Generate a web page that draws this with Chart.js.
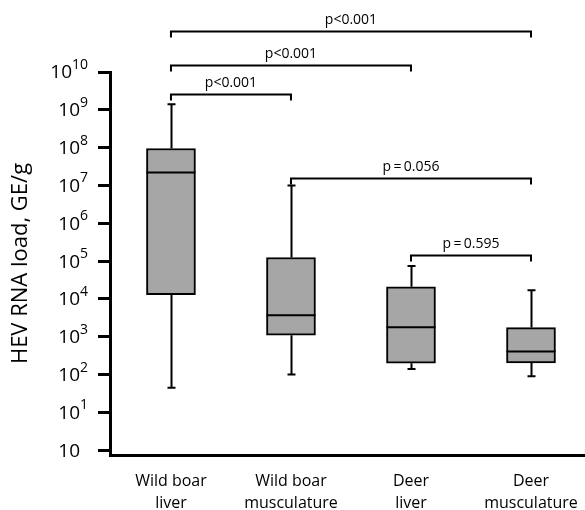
<!DOCTYPE html>
<html>
<head>
<meta charset="utf-8">
<script src="https://cdn.jsdelivr.net/npm/chart.js@4.4.0/dist/chart.umd.min.js"></script>
<style>
  html, body { margin: 0; padding: 0; background: #fff; }
</style>
</head>
<body>
<canvas id="myChart" width="585" height="510"></canvas>
<script>
// data (GE/g)
const categories = [['Wild boar', 'liver'], ['Wild boar', 'musculature'], ['Deer', 'liver'], ['Deer', 'musculature']];
const whiskerLow = [45, 100, 140, 90];
const q1 = [1.3e4, 1.1e3, 200, 205];
const medians = [2.2e7, 3.7e3, 1.8e3, 410];
const q3 = [9.5e7, 1.25e5, 2.1e4, 1.75e3];
const whiskerHigh = [1.4e9, 1.0e7, 7.4e4, 1.7e4];

// y ticks: "10" at the bottom, then 10^1 .. 10^10
const yTicks = [1, 1e1, 1e2, 1e3, 1e4, 1e5, 1e6, 1e7, 1e8, 1e9, 1e10];
const yTickExp = ['', '1', '2', '3', '4', '5', '6', '7', '8', '9', '10'];

// significance brackets
const comparisons = [[0, 1], [0, 2], [0, 3], [1, 3], [2, 3]];
const pLabels = ['p<0.001', 'p<0.001', 'p<0.001', 'p\u2009=\u20090.056', 'p\u2009=\u20090.595'];
const bracketLevels = [2.6e9, 1.5e10, 1.2e11, 1.6e7, 1.45e5];

const FONT = "'Open Sans', sans-serif";

const boxPlugin = {
  id: 'boxExtras',
  beforeDatasetsDraw(chart) {
    const { ctx, scales: { x, y } } = chart;
    ctx.save();
    ctx.strokeStyle = '#000';
    ctx.lineWidth = 2;
    for (let i = 0; i < categories.length; i++) {
      const cx = Math.round(x.getPixelForValue(i)) + 0.5;
      const lo = y.getPixelForValue(whiskerLow[i]);
      const hi = y.getPixelForValue(whiskerHigh[i]);
      ctx.beginPath();
      ctx.moveTo(cx, y.getPixelForValue(q1[i]));
      ctx.lineTo(cx, lo);
      ctx.moveTo(cx, y.getPixelForValue(q3[i]));
      ctx.lineTo(cx, hi);
      ctx.moveTo(cx - 4, lo);
      ctx.lineTo(cx + 4, lo);
      ctx.moveTo(cx - 4, hi);
      ctx.lineTo(cx + 4, hi);
      ctx.stroke();
    }
    ctx.restore();
  },
  afterDatasetsDraw(chart) {
    const { ctx, scales: { y } } = chart;
    const meta = chart.getDatasetMeta(0);
    ctx.save();
    ctx.strokeStyle = '#000';
    ctx.lineWidth = 2;
    meta.data.forEach((bar, i) => {
      const half = bar.width / 2;
      const my = y.getPixelForValue(medians[i]);
      ctx.beginPath();
      ctx.moveTo(bar.x - half, my);
      ctx.lineTo(bar.x + half, my);
      ctx.stroke();
    });
    ctx.restore();
  },
  afterDraw(chart) {
    const { ctx, scales: { x, y } } = chart;
    ctx.save();
    ctx.fillStyle = '#000';
    // y tick labels with superscript exponents
    const right = y.right - 22;
    for (let i = 0; i < yTicks.length; i++) {
      const py = y.getPixelForValue(yTicks[i]);
      ctx.font = '14px ' + FONT;
      const expW = ctx.measureText(yTickExp[i] || '0').width;
      ctx.textBaseline = 'middle';
      ctx.textAlign = 'left';
      if (yTickExp[i]) ctx.fillText(yTickExp[i], right - expW, py - 7);
      ctx.font = '19px ' + FONT;
      ctx.textAlign = 'right';
      ctx.fillText('10', right - expW, py + 1);
    }
    // brackets
    ctx.strokeStyle = '#000';
    ctx.lineWidth = 2;
    ctx.font = '14px ' + FONT;
    ctx.textAlign = 'center';
    ctx.textBaseline = 'middle';
    comparisons.forEach(([a, b], k) => {
      const xa = x.getPixelForValue(a);
      const xb = x.getPixelForValue(b);
      const by = Math.round(y.getPixelForValue(bracketLevels[k])) + 0.5;
      ctx.beginPath();
      ctx.moveTo(xa, by + 6);
      ctx.lineTo(xa, by);
      ctx.lineTo(xb, by);
      ctx.lineTo(xb, by + 6);
      ctx.stroke();
      ctx.fillText(pLabels[k], (xa + xb) / 2, by - 11);
    });
    ctx.restore();
  }
};

const ctx = document.getElementById('myChart').getContext('2d');
const myChart = new Chart(ctx, {
  type: 'bar',
  data: {
    datasets: [{
      data: categories.map((c, i) => ({ x: i, y: [q1[i], q3[i]] })),
      backgroundColor: '#a6a6a6',
      borderColor: '#000',
      borderWidth: 2,
      borderSkipped: false,
      barThickness: 49
    }]
  },
  options: {
    responsive: false,
    animation: false,
    layout: { padding: { top: 72, left: 0, right: 0, bottom: 0 } },
    plugins: { legend: { display: false }, tooltip: { enabled: false } },
    scales: {
      x: {
        type: 'linear',
        offset: false,
        min: -0.508,
        max: 3.45,
        afterBuildTicks: s => { s.ticks = categories.map((c, i) => ({ value: i })); },
        afterFit: s => { s.height = 55; s.paddingLeft = 0; s.paddingRight = 0; },
        ticks: {
          callback: v => categories[v],
          color: '#000',
          font: { family: FONT, size: 16, lineHeight: 1.35 },
          padding: 16,
          maxRotation: 0,
          autoSkip: false
        },
        grid: { display: false, drawTicks: false, offset: false },
        border: { color: '#000', width: 3 }
      },
      y: {
        type: 'logarithmic',
        min: 0.75,
        max: 1e10,
        afterBuildTicks: s => { s.ticks = yTicks.map(v => ({ value: v })); },
        afterFit: s => { s.width = 110; s.paddingTop = 0; s.paddingBottom = 0; },
        ticks: { display: false },
        grid: { drawOnChartArea: false, drawTicks: true, tickLength: 12, tickWidth: 3, tickColor: '#000' },
        border: { color: '#000', width: 3 },
        title: {
          display: true,
          text: 'HEV RNA load, GE/g',
          color: '#000',
          font: { family: FONT, size: 22 },
          padding: { top: 8, bottom: 0 }
        }
      }
    }
  },
  plugins: [boxPlugin]
});
</script>
</body>
</html>
